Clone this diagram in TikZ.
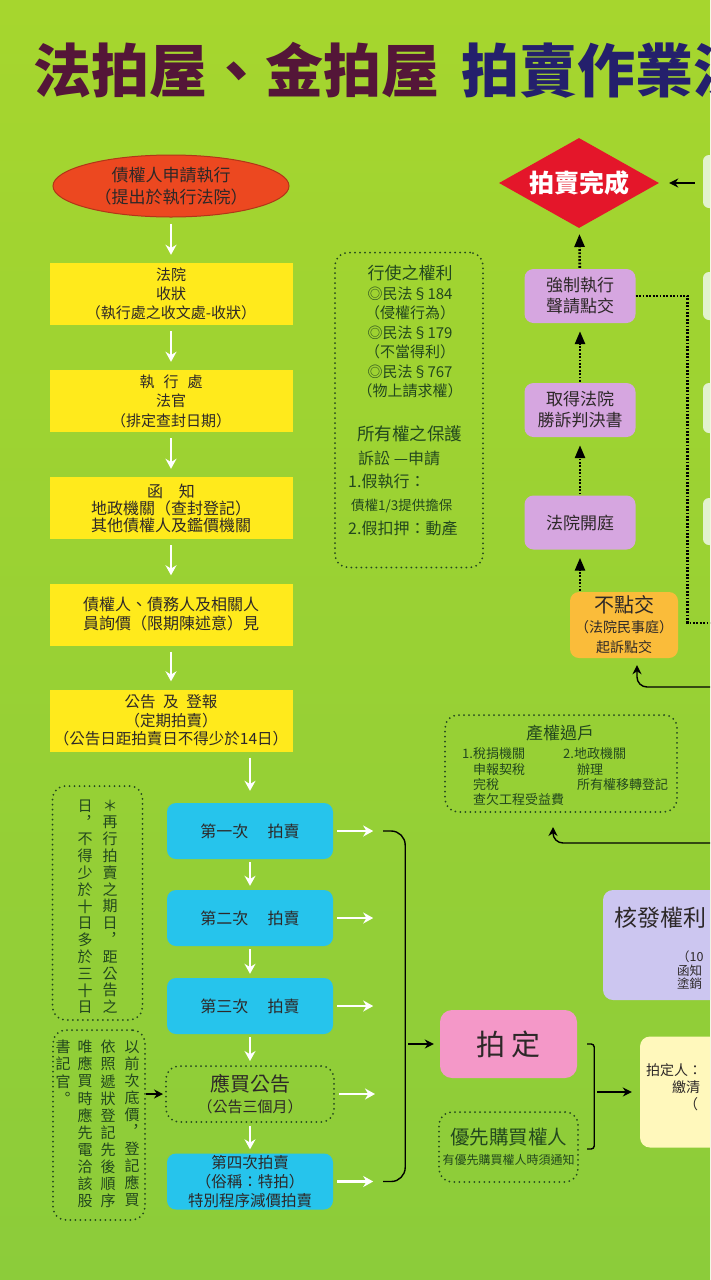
\documentclass[tikz,border=0pt]{standalone}
\usepackage{fontspec}
\setmainfont{Noto Sans CJK TC}
\usepackage{xcolor}
\usepackage{tikz}
\usetikzlibrary{arrows.meta,positioning,shapes.geometric,calc}
\newcommand{\fsz}[2]{\fontsize{#1}{#2}\selectfont}
\definecolor{bgtop}{RGB}{166,214,46}
\definecolor{bgbot}{RGB}{140,204,58}
\definecolor{ink}{RGB}{45,40,40}
\definecolor{leafink}{RGB}{35,72,30}
\definecolor{boxyellow}{RGB}{255,234,28}
\definecolor{boxblue}{RGB}{38,196,236}
\definecolor{boxlilac}{RGB}{214,166,224}
\definecolor{boxorange}{RGB}{250,188,58}
\definecolor{ovalred}{RGB}{236,72,32}
\definecolor{diared}{RGB}{228,22,42}
\definecolor{soldpink}{RGB}{244,152,200}
\definecolor{grantlilac}{RGB}{204,198,240}
\definecolor{buyercream}{RGB}{255,248,188}
\definecolor{sidepale}{RGB}{226,242,206}
\definecolor{titlered}{RGB}{84,22,56}
\definecolor{titleblue}{RGB}{36,32,108}

\begin{document}
\begin{tikzpicture}[x=1pt, y=-1pt, >=Stealth, font=\fsz{15}{19},
  ybox/.style={fill=boxyellow, minimum width=243pt, minimum height=62pt, inner sep=0pt, align=center, text=ink},
  bbox/.style={fill=boxblue, rounded corners=9pt, minimum width=166pt, minimum height=56pt, inner sep=0pt, align=center, text=ink, font=\fsz{16}{19}},
  pbox/.style={fill=boxlilac, rounded corners=9pt, minimum width=111pt, minimum height=54pt, inner sep=0pt, align=center, text=ink, font=\fsz{17}{21}},
  dbox/.style={draw=leafink, line width=2pt, dash pattern=on 0pt off 5pt, line cap=round, rounded corners=13pt, inner sep=0pt},
  side/.style={fill=sidepale, rounded corners=6pt, minimum width=40pt, inner sep=0pt},
  warr/.style={draw=white, line width=2.6pt, -{Stealth[length=10pt,width=11pt]}, shorten <=6pt, shorten >=8pt},
  barr/.style={draw=black, line width=1.4pt, -{Stealth[length=9pt,width=9pt]}},
  dline/.style={draw=black, line width=2.6pt, dash pattern=on 1.8pt off 1.6pt},
  darr/.style={dline, -{Triangle[length=13pt,width=10pt]}, shorten >=8pt, shorten <=1pt},
  vcol/.style={font=\fsz{15}{16.8}, text=leafink, align=center, inner sep=0pt, anchor=north},
  vcolb/.style={vcol, font=\fsz{15}{17.1}}]
\shade[top color=bgtop, bottom color=bgbot] (0,0) rectangle (710,1280);
\useasboundingbox (0,0) rectangle (710,1280);
\clip (0,0) rectangle (710,1280);

\node[anchor=west, inner sep=0pt, font=\fsz{58}{60}\bfseries] (title) at (33,70) {\textcolor{titlered}{法拍屋、金拍屋}\hspace{22pt}\textcolor{titleblue}{拍賣作業流程}};

\node[ellipse, draw=ovalred!75!black, line width=1pt, fill=ovalred, minimum width=236pt, minimum height=62pt, inner sep=0pt, align=center, font=\fsz{17}{22}, text=ink] (apply) at (171,186) {債權人申請執行\\（提出於執行法院）};
\node[ybox] (filing) at (171,294) {法院\\收狀\\（執行處之收文處-收狀）};
\node[ybox, font=\fsz{15}{19.5}] (judge) at (171,401) {執\hspace{0.6em}行\hspace{0.6em}處\\法官\\（排定查封日期）};
\node[ybox, font=\fsz{16}{17}] (notify) at (171,508) {函\hspace{1em}知\\地政機關（查封登記）\\其他債權人及鑑價機關};
\node[ybox, font=\fsz{16}{19}] (inquiry) at (171,614.5) {債權人、債務人及相關人\\員詢價（限期陳述意）見};
\node[ybox, font=\fsz{15.5}{18.5}] (announce) at (171,720.5) {公告\hspace{0.5em}及\hspace{0.5em}登報\\（定期拍賣）\\（公告日距拍賣日不得少於14日）};
\foreach \a/\b in {apply/filing, filing/judge, judge/notify, notify/inquiry, inquiry/announce}
  \draw[warr] (\a) -- (\b);

\foreach \n/\yy/\lab in {first/831/第一次, second/918/第二次, third/1006/第三次}
  \node[bbox] (\n) at (250,\yy) {\lab\hspace{1.2em}拍賣};
\node[dbox, minimum width=168pt, minimum height=56pt, align=center, text=ink, font=\fsz{15}{21}] (notice) at (250,1094) {{\fsz{20}{21}應買公告}\\（公告三個月）};
\node[bbox, font=\fsz{15.5}{19}] (fourth) at (250,1181.5) {第四次拍賣\\（俗稱：特拍）\\特別程序減價拍賣};
\draw[warr, shorten >=12pt] (announce.south -| first) -- (first);
\foreach \a/\b in {first/second, second/third, third/notice, notice/fourth}
  \draw[warr, shorten <=3pt, shorten >=4pt] (\a) -- (\b);
\foreach \n/\k in {first/1, second/2, third/3, notice/4, fourth/5} {
  \coordinate (out\k) at ([xshift=40pt]\n.east);
  \draw[warr, shorten <=4pt, shorten >=0pt] (\n.east) -- (out\k);
}
\draw[line width=1.4pt, rounded corners=14pt] ([xshift=10pt]out1) -- ++(22,0) |- ([xshift=10pt]out5);

\node[dbox, minimum width=90pt, minimum height=234pt] (rule) at (97.5,903) {};
\node[vcol] (rulea) at (110,799.5) {＊\\再\\行\\拍\\賣\\之\\期\\日\\︐\\距\\公\\告\\之};
\node[vcol] (ruleb) at (85,799.5) {日\\︐\\不\\得\\少\\於\\十\\日\\多\\於\\三\\十\\日};

\node[dbox, minimum width=92pt, minimum height=190pt] (bidnote) at (99,1125) {};
\node[vcolb] (bida) at (132,1040) {以\\前\\次\\底\\價\\︐\\登\\記\\應\\買};
\node[vcolb] (bidb) at (108,1040) {依\\照\\遞\\狀\\登\\記\\先\\後\\順\\序};
\node[vcolb] (bidc) at (85,1040) {唯\\應\\買\\時\\應\\先\\電\\洽\\該\\股};
\node[vcolb] (bidd) at (63,1040) {書\\記\\官\\︒};
\draw[barr, shorten >=2pt] (bidnote.east |- notice) -- (notice.west);

\node[dbox, minimum width=148pt, minimum height=315pt] (rights) at (409,410) {};
\node[align=center, text=leafink, font=\fsz{15}{19.5}, inner sep=0pt] (rightsa) at (410,332) {{\fsz{17}{19.5}行使之權利}\\◎民法§184\\（侵權行為）\\◎民法§179\\（不當得利）\\◎民法§767\\（物上請求權）};
\node[anchor=north west, align=left, text=leafink, font=\fsz{16}{23.3}, inner sep=0pt] (rightsb) at (348,426) {\hspace*{9pt}{\fsz{17.5}{23.3}所有權之保護}\\\hspace*{10pt}訴訟 —申請\\1.假執行：\\\hspace*{3pt}{\fsz{13.5}{23.3}債權1/3提供擔保}\\2.假扣押：動產};

\node[diamond, fill=diared, minimum width=160pt, minimum height=90pt, aspect=1.8, inner sep=0pt, text=white, font=\fsz{25}{28}\bfseries] (done) at (579,183) {拍賣完成};
\node[pbox] (enforce) at (580,296) {強制執行\\聲請點交};
\node[pbox] (verdict) at (580,410) {取得法院\\勝訴判決書};
\node[pbox] (hearing) at (580,522.5) {法院開庭};
\node[fill=boxorange, rounded corners=9pt, minimum width=108pt, minimum height=66pt, inner sep=0pt, align=center, text=ink, font=\fsz{14}{20}] (nopoint) at (624,625) {{\fsz{20}{20}不點交}\\（法院民事庭）\\起訴點交};
\draw[darr, shorten >=6pt] (enforce) -- (done);
\draw[darr] (verdict) -- (enforce);
\draw[darr] (hearing) -- (verdict);
\draw[darr] (hearing |- nopoint.north) -- (hearing);
\coordinate (loopend) at (715,623);
\draw[dline] (enforce.east) -- ++(52,0) |- (loopend);

\foreach \i/\yy/\hh in {1/181.5/53pt, 2/296/48pt, 3/408/50pt, 4/521.5/47pt}
  \node[side, minimum height=\hh] (side\i) at (723,\yy) {};
\draw[barr, shorten <=8pt, shorten >=10pt] (side1.west |- done) -- (done.east);

\coordinate (backa) at (715,687);
\draw[barr, rounded corners=10pt] (backa) -| ([xshift=13pt,yshift=-7pt]nopoint.south);

\node[dbox, minimum width=232pt, minimum height=97pt] (transfer) at (561,763.5) {};
\node[text=leafink, font=\fsz{17}{20}, inner sep=0pt] (transfertitle) at (560,733) {產權過戶};
\node[anchor=north west, align=left, text=leafink, font=\fsz{13}{15.4}, inner sep=0pt] (taxside) at (462,747.5) {1.稅捐機關\\\hspace*{11pt}申報契稅\\\hspace*{11pt}完稅\\\hspace*{11pt}查欠工程受益費};
\node[anchor=north west, align=left, text=leafink, font=\fsz{13}{15.4}, inner sep=0pt] (landside) at (563,747.5) {2.地政機關\\\hspace*{14pt}辦理\\\hspace*{14pt}所有權移轉登記};
\coordinate (backb) at (715,843);
\draw[barr, rounded corners=10pt] (backb) -| ([xshift=-8pt,yshift=-14pt]transfer.south);

\node[fill=grantlilac, rounded corners=10pt, minimum width=180pt, minimum height=110pt] (grant) at (693,945) {};
\node[anchor=west, font=\fsz{23}{26}, text=ink, inner sep=0pt] (granttitle) at (614,918) {核發權利};
\node[anchor=north west, align=left, font=\fsz{12.5}{13.2}, text=ink, inner sep=0pt] (grantnote) at (677,951) {（10\\函知\\塗銷};

\node[fill=soldpink, rounded corners=12pt, minimum width=137pt, minimum height=68pt, font=\fsz{29}{30}, text=ink] (sold) at (508.5,1044) {拍\hspace{7pt}定};
\coordinate (bmid) at (405,1044);
\draw[barr, shorten <=3pt, shorten >=6pt] (bmid) -- (sold.west);
\node[dbox, minimum width=139pt, minimum height=70pt, align=center, text=leafink, font=\fsz{19.5}{20}] (pref) at (508.5,1147) {優先購買權人\\{\fsz{12}{20}有優先購買權人時須通知}};
\draw[line width=1.4pt, rounded corners=3pt] ([xshift=10pt]sold.east) -- ++(7,0) -- ++(0,105) -- ++(-7,0);

\node[fill=buyercream, rounded corners=10pt, minimum width=140pt, minimum height=111pt] (buyer) at (710,1092) {};
\node[anchor=north west, align=left, font=\fsz{14}{17}, text=ink, inner sep=0pt] (buyernote) at (646,1063) {拍定人：\\\hspace*{26pt}繳清\\\hspace*{38pt}（};
\coordinate (bk) at (597,1092);
\draw[barr, shorten >=8pt] (bk) -- (buyer.west |- bk);
\end{tikzpicture}
\end{document}
